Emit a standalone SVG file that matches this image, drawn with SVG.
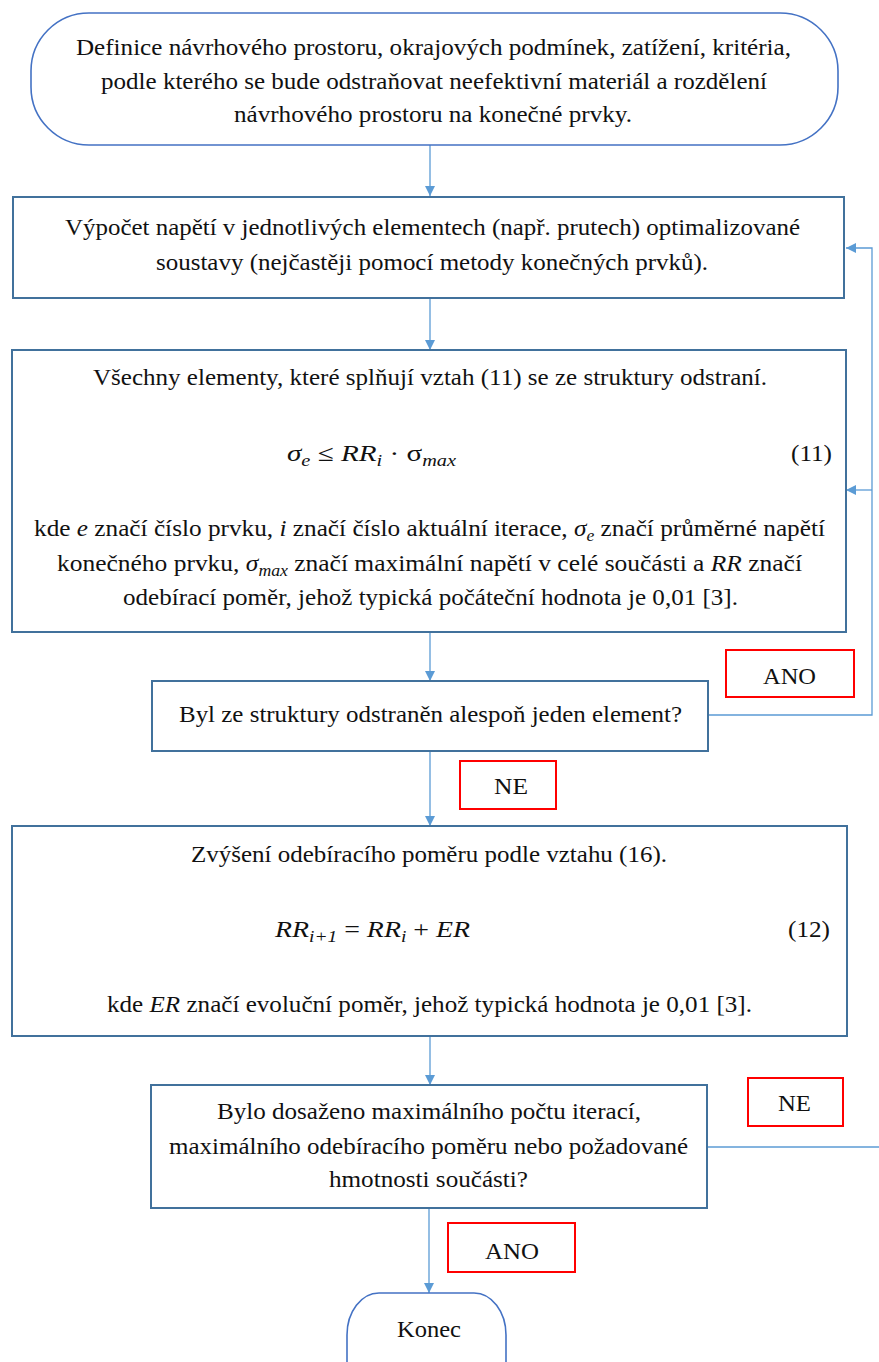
<svg xmlns="http://www.w3.org/2000/svg" width="879" height="1362" viewBox="0 0 879 1362">
<style>
text{font-family:'Liberation Serif','DejaVu Serif',serif}
.t{font-size:23px;fill:#111;text-anchor:middle}
.s{font-size:23px;fill:#111;text-anchor:start}
.m{font-style:italic}
.box{fill:#fff;stroke:#41719C;stroke-width:2}
.term{fill:#fff;stroke:#4472C4;stroke-width:1.6}
.lab{fill:#fff;stroke:#FF0000;stroke-width:2}
.c{fill:none;stroke:#5B9BD5;stroke-width:1.3}
</style>
<defs>
<marker id="ah" viewBox="0 0 10 10" refX="10" refY="5" markerWidth="10" markerHeight="10" markerUnits="userSpaceOnUse" orient="auto">
<path d="M0,0 L10,5 L0,10 z" fill="#5B9BD5"/>
</marker>
</defs>
<rect width="879" height="1362" fill="#fff"/>
<g id="connectors">
<line class="c" x1="430" y1="145" x2="430" y2="196" marker-end="url(#ah)"/>
<line class="c" x1="430" y1="298" x2="430" y2="350" marker-end="url(#ah)"/>
<line class="c" x1="430" y1="632" x2="430" y2="681" marker-end="url(#ah)"/>
<line class="c" x1="430" y1="751" x2="430" y2="826" marker-end="url(#ah)"/>
<line class="c" x1="430" y1="1036" x2="430" y2="1085" marker-end="url(#ah)"/>
<line class="c" x1="429" y1="1208" x2="429" y2="1293" marker-end="url(#ah)"/>
<polyline class="c" points="708,715 872,715 872,248 846,248" marker-end="url(#ah)"/>
<line class="c" x1="872" y1="490" x2="846" y2="490" marker-end="url(#ah)"/>
<line class="c" x1="707" y1="1147" x2="879" y2="1147"/>
</g>
<g id="start">
<rect class="term" x="31" y="13" width="807" height="132" rx="58" ry="58"/>
<text class="t" x="433.5" y="55" textLength="715" lengthAdjust="spacingAndGlyphs">Definice návrhového prostoru, okrajových podmínek, zatížení, kritéria,</text>
<text class="t" x="434" y="89" textLength="666" lengthAdjust="spacingAndGlyphs">podle kterého se bude odstraňovat neefektivní materiál a rozdělení</text>
<text class="t" x="433" y="122" textLength="398" lengthAdjust="spacingAndGlyphs">návrhového prostoru na konečné prvky.</text>
</g>
<g id="vypocet">
<rect class="box" x="13" y="197" width="831" height="101"/>
<text class="t" x="432.5" y="235" textLength="735" lengthAdjust="spacingAndGlyphs">Výpočet napětí v jednotlivých elementech (např. prutech) optimalizované</text>
<text class="t" x="432" y="270" textLength="552" lengthAdjust="spacingAndGlyphs">soustavy (nejčastěji pomocí metody konečných prvků).</text>
</g>
<g id="odstraneni">
<rect class="box" x="12" y="350" width="834" height="282"/>
<text class="t" x="430" y="385" textLength="674" lengthAdjust="spacingAndGlyphs">Všechny elementy, které splňují vztah (11) se ze struktury odstraní.</text>
<text class="s" x="287" y="461" textLength="169" lengthAdjust="spacingAndGlyphs"><tspan class="m">σ</tspan><tspan class="m" font-size="16" dy="5">e</tspan><tspan dy="-5"> ≤ </tspan><tspan class="m">RR</tspan><tspan class="m" font-size="16" dy="5">i</tspan><tspan dy="-5"> · σ</tspan><tspan class="m" font-size="16" dy="5">max</tspan></text>
<text class="s" x="791" y="461" textLength="41" lengthAdjust="spacingAndGlyphs">(11)</text>
<text class="t" x="429.5" y="536" textLength="791" lengthAdjust="spacingAndGlyphs">kde <tspan class="m">e</tspan> značí číslo prvku, <tspan class="m">i</tspan> značí číslo aktuální iterace, <tspan class="m">σ</tspan><tspan class="m" font-size="16" dy="5">e</tspan><tspan dy="-5"> značí průměrné napětí</tspan></text>
<text class="t" x="429.5" y="571" textLength="745" lengthAdjust="spacingAndGlyphs">konečného prvku, <tspan class="m">σ</tspan><tspan class="m" font-size="16" dy="5">max</tspan><tspan dy="-5"> značí maximální napětí v celé součásti a </tspan><tspan class="m">RR</tspan> značí</text>
<text class="t" x="430.5" y="605" textLength="615" lengthAdjust="spacingAndGlyphs">odebírací poměr, jehož typická počáteční hodnota je 0,01 [3].</text>
</g>
<g id="rozhodnuti1">
<rect class="box" x="152" y="681" width="556" height="70"/>
<text class="t" x="430.5" y="722" textLength="503" lengthAdjust="spacingAndGlyphs">Byl ze struktury odstraněn alespoň jeden element?</text>
</g>
<g id="lab-ano1">
<rect class="lab" x="726" y="650" width="128" height="47"/>
<text class="t" x="789.5" y="684" textLength="53" lengthAdjust="spacingAndGlyphs">ANO</text>
</g>
<g id="lab-ne1">
<rect class="lab" x="460" y="761" width="96" height="48"/>
<text class="t" x="511" y="794" textLength="34" lengthAdjust="spacingAndGlyphs">NE</text>
</g>
<g id="zvyseni">
<rect class="box" x="12" y="826" width="835" height="210"/>
<text class="t" x="429" y="862" textLength="476" lengthAdjust="spacingAndGlyphs">Zvýšení odebíracího poměru podle vztahu (16).</text>
<text class="s" x="275" y="937" textLength="195" lengthAdjust="spacingAndGlyphs"><tspan class="m">RR</tspan><tspan class="m" font-size="16" dy="5">i+1</tspan><tspan dy="-5"> = </tspan><tspan class="m">RR</tspan><tspan class="m" font-size="16" dy="5">i</tspan><tspan dy="-5"> + </tspan><tspan class="m">ER</tspan></text>
<text class="s" x="788" y="937" textLength="42" lengthAdjust="spacingAndGlyphs">(12)</text>
<text class="t" x="429.5" y="1012" textLength="645" lengthAdjust="spacingAndGlyphs">kde <tspan class="m">ER</tspan> značí evoluční poměr, jehož typická hodnota je 0,01 [3].</text>
</g>
<g id="rozhodnuti2">
<rect class="box" x="151" y="1085" width="556" height="123"/>
<text class="t" x="429" y="1119" textLength="424" lengthAdjust="spacingAndGlyphs">Bylo dosaženo maximálního počtu iterací,</text>
<text class="t" x="428.5" y="1154" textLength="519" lengthAdjust="spacingAndGlyphs">maximálního odebíracího poměru nebo požadované</text>
<text class="t" x="428.5" y="1187" textLength="199" lengthAdjust="spacingAndGlyphs">hmotnosti součásti?</text>
</g>
<g id="lab-ne2">
<rect class="lab" x="748" y="1078" width="95" height="48"/>
<text class="t" x="794.5" y="1111" textLength="33" lengthAdjust="spacingAndGlyphs">NE</text>
</g>
<g id="lab-ano2">
<rect class="lab" x="448" y="1223" width="127" height="49"/>
<text class="t" x="512" y="1259" textLength="54" lengthAdjust="spacingAndGlyphs">ANO</text>
</g>
<g id="konec">
<rect class="term" x="347" y="1293" width="159" height="120" rx="32" ry="42"/>
<text class="t" x="429" y="1337" textLength="64" lengthAdjust="spacingAndGlyphs">Konec</text>
</g>
</svg>
